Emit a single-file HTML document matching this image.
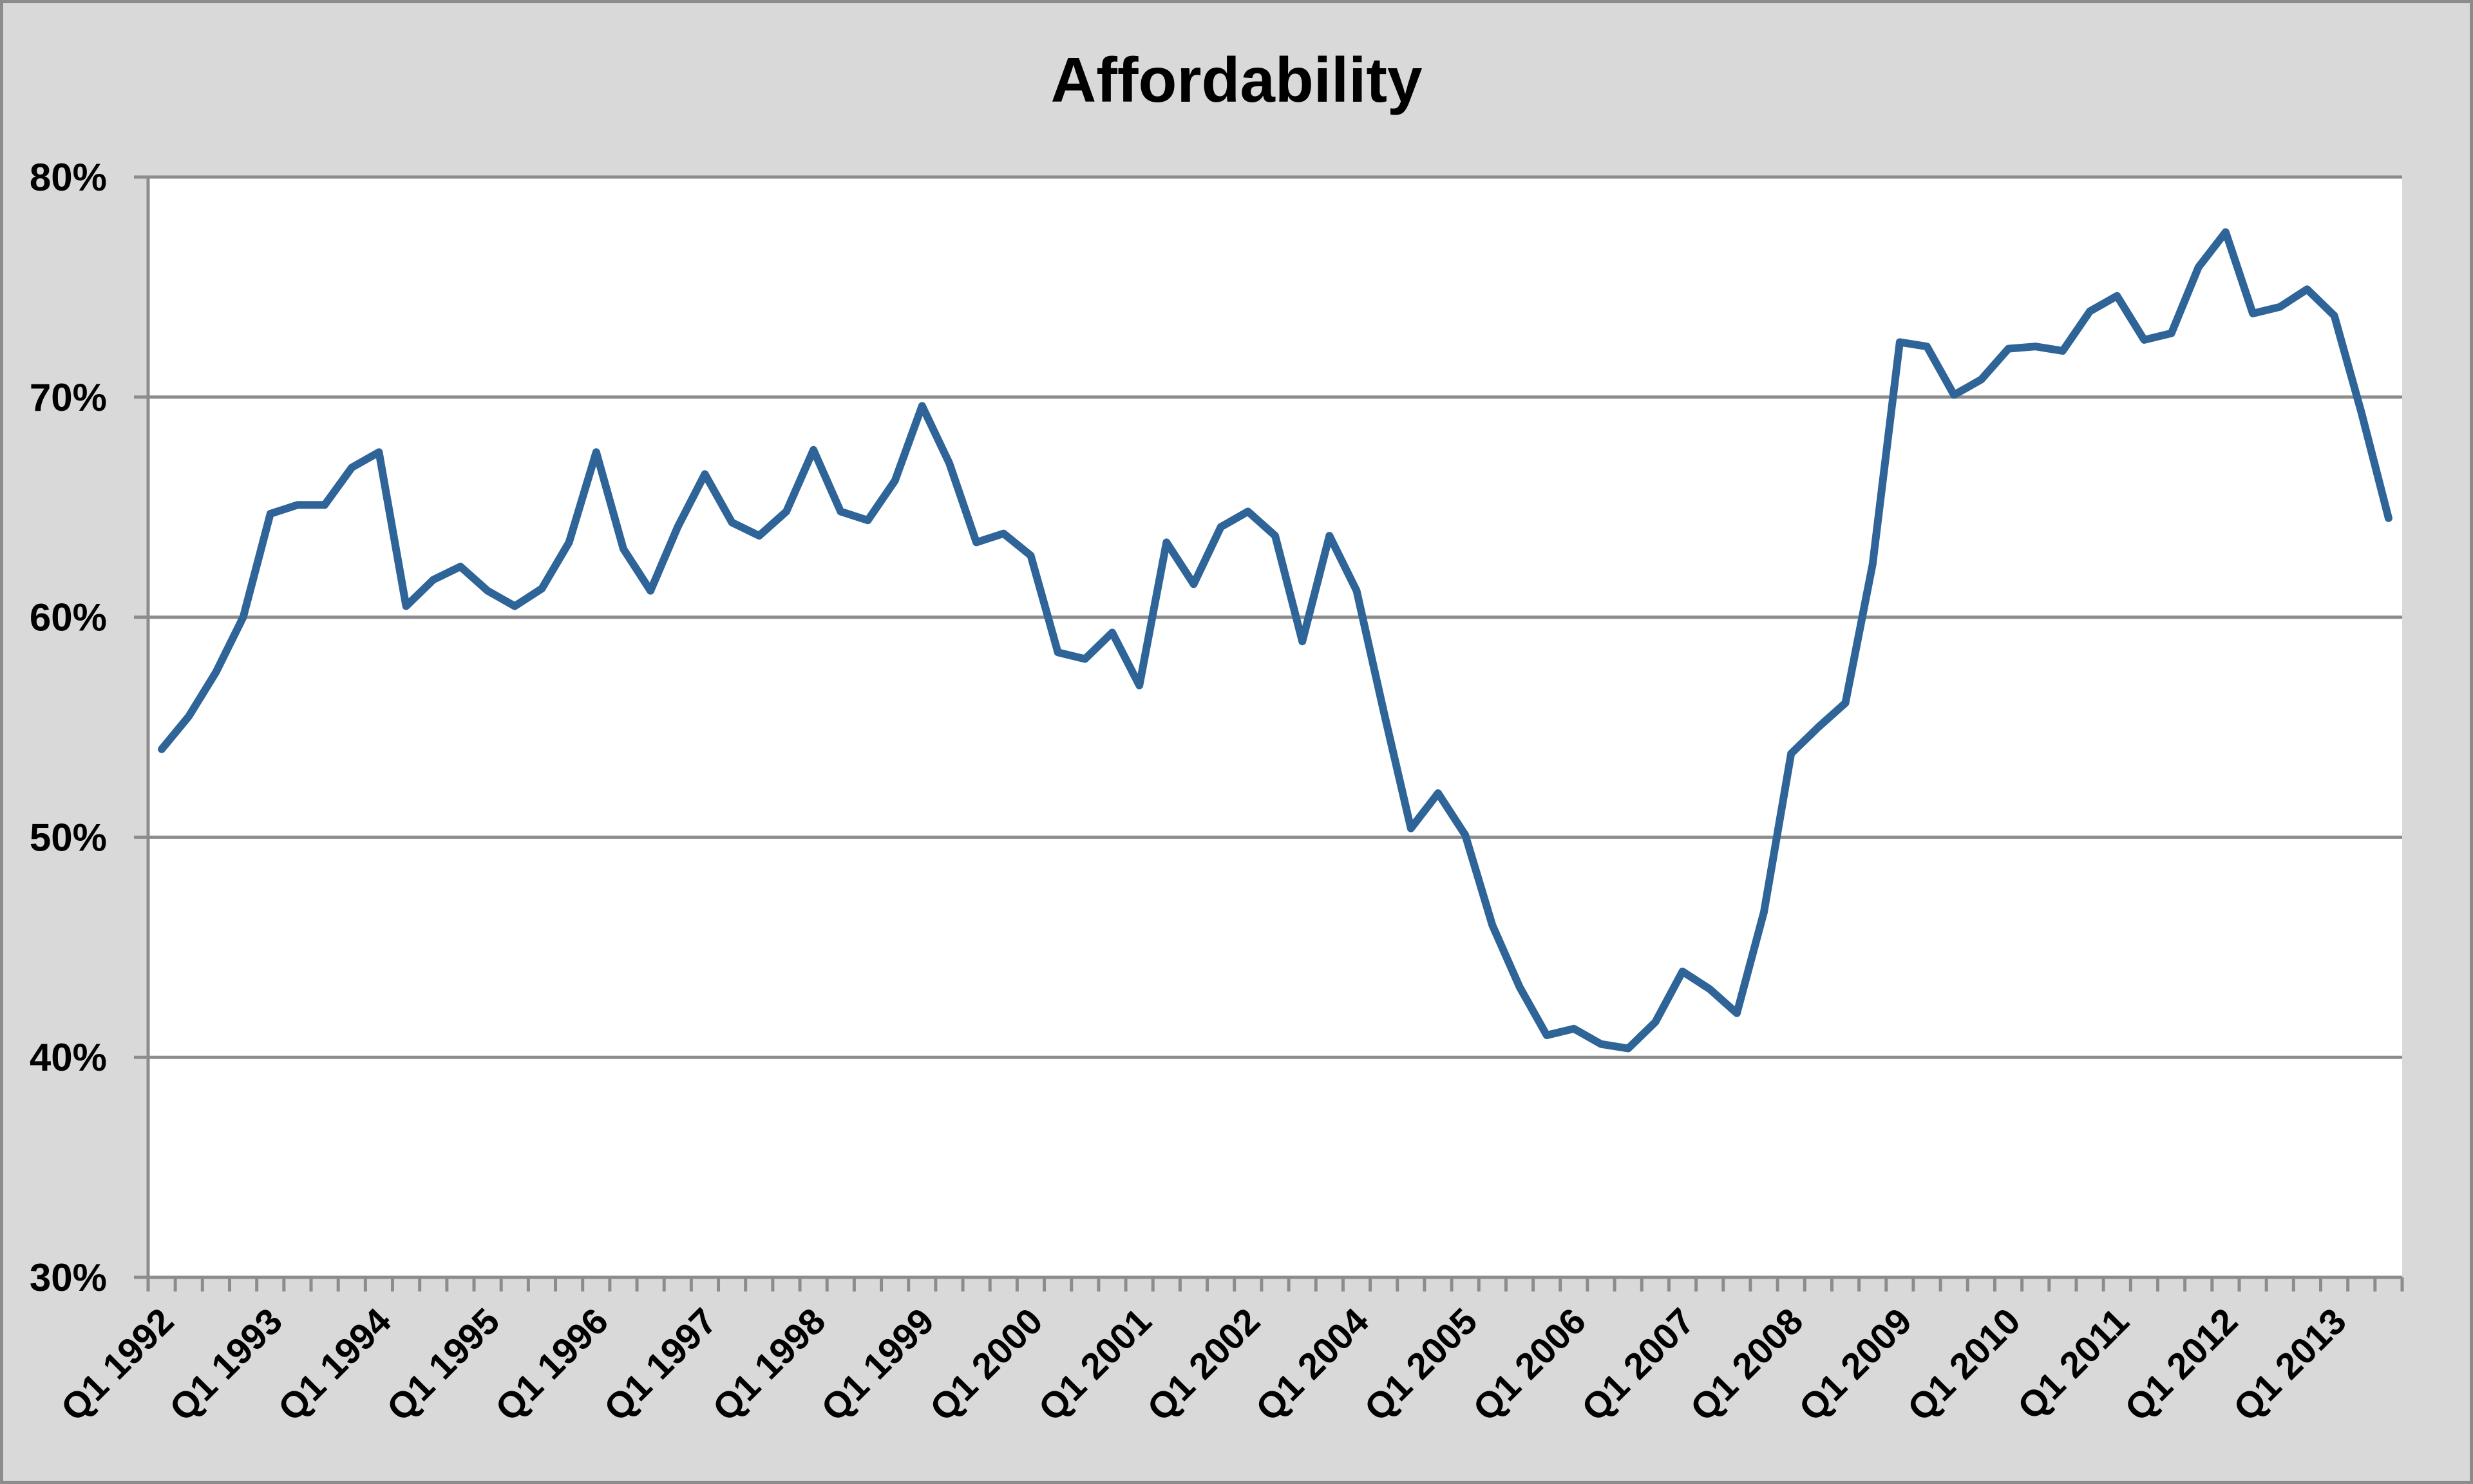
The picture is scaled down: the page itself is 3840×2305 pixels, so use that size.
<!DOCTYPE html>
<html><head><meta charset="utf-8"><style>
html,body{margin:0;padding:0;background:#d9d9d9}
svg{display:block}
text{font-family:"Liberation Sans",sans-serif;font-weight:bold;fill:#000}
</style></head><body>
<svg id="chart" width="3840" height="2305" viewBox="0 0 3840 2305" xmlns="http://www.w3.org/2000/svg">
<rect x="2.5" y="2.5" width="3835" height="2300" fill="#d9d9d9" stroke="#8c8c8c" stroke-width="5"/>
<text x="1920" y="158" text-anchor="middle" font-size="98">Affordability</text>
<rect x="230" y="275" width="3500" height="1709" fill="#fff"/>
<g id="grid"></g><g id="axes"></g><g id="series"></g>
</svg>
<script>
const values=[54,55.5,57.5,60,64.7,65.1,65.1,66.8,67.5,60.5,61.7,62.3,61.2,60.5,61.3,63.4,67.5,63.1,61.2,64.1,66.5,64.3,63.7,64.8,67.6,64.8,64.4,66.2,69.6,67,63.4,63.8,62.8,58.4,58.1,59.3,56.9,63.4,61.5,64.1,64.8,63.7,58.9,63.7,61.2,55.7,50.4,52,50.1,46,43.2,41,41.3,40.6,40.4,41.6,43.9,43.1,42,46.6,53.8,55,56.1,62.4,72.5,72.3,70.1,70.8,72.2,72.3,72.1,73.9,74.6,72.6,72.9,75.9,77.5,73.8,74.1,74.9,73.7,69.3,64.5];
const xLabels=["Q1 1992","Q1 1993","Q1 1994","Q1 1995","Q1 1996","Q1 1997","Q1 1998","Q1 1999","Q1 2000","Q1 2001","Q1 2002","Q1 2004","Q1 2005","Q1 2006","Q1 2007","Q1 2008","Q1 2009","Q1 2010","Q1 2011","Q1 2012","Q1 2013"];
const yTicks=[30,40,50,60,70,80];
const NS="http://www.w3.org/2000/svg";
const L=230,R=3730,T=275,B=1984,N=values.length,step=(R-L)/N;
const xS=i=>L+step*(i+0.5);
const yS=v=>B-(v-30)/(80-30)*(B-T);
function mk(tag,attrs,parent){const e=document.createElementNS(NS,tag);for(const k in attrs)e.setAttribute(k,attrs[k]);parent.appendChild(e);return e;}
const grid=document.getElementById('grid'),axes=document.getElementById('axes'),series=document.getElementById('series');
yTicks.forEach(t=>{
  if(t>30){const g=mk('line',{x1:L,x2:R,y1:yS(t),y2:yS(t),stroke:'#8c8c8c','stroke-width':5},grid);
  
  }
  const tk=mk('line',{x1:L-22,x2:L,y1:yS(t),y2:yS(t),stroke:'#8c8c8c','stroke-width':5},axes);
  
  
  const tx=mk('text',{x:166,y:yS(t)+21,'text-anchor':'end','font-size':60},axes);
  tx.textContent=t+'%';
  
  
});
const ya=mk('line',{x1:L,x2:L,y1:T,y2:B+2,stroke:'#8c8c8c','stroke-width':5},axes);


const xa=mk('line',{x1:L-22,x2:R,y1:B,y2:B,stroke:'#8c8c8c','stroke-width':5},axes);


for(let i=0;i<=N;i++){
  const x=L+step*i;
  const tk=mk('line',{x1:x,x2:x,y1:B,y2:B+22,stroke:'#8c8c8c','stroke-width':5},axes);
  
  
}
xLabels.forEach((lab,k)=>{
  const x=xS(k*4)+22,y=B+72;
  const tx=mk('text',{x:x,y:y,'text-anchor':'end','font-size':57,transform:`rotate(-45 ${x} ${y})`},axes);
  tx.textContent=lab;
  
  
});
const pts=values.map((v,i)=>xS(i).toFixed(1)+','+yS(v).toFixed(1)).join(' ');
const pl=mk('polyline',{points:pts,fill:'none',stroke:'#2e6497','stroke-width':12,'stroke-linejoin':'round','stroke-linecap':'round'},series);


</script>
</body></html>
